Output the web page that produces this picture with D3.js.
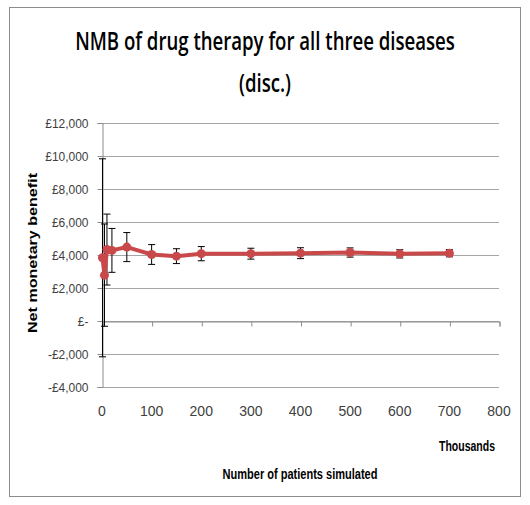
<!DOCTYPE html>
<html>
<head>
<meta charset="utf-8">
<script src="https://cdn.jsdelivr.net/npm/d3@7"></script>
<style>
  html, body { margin: 0; padding: 0; background: #fff; }
  svg { display: block; }
</style>
</head>
<body>
<svg id="chart" width="530" height="505"></svg>
<script>
// ---- data ----
const patientsThousands = [1, 5, 10, 20, 50, 100, 150, 200, 300, 400, 500, 600, 700];
const nmbValues        = [3800, 2750, 4300, 4250, 4450, 4000, 3900, 4050, 4050, 4080, 4120, 4040, 4080];
const errorMargins     = [6000, 3100, 2150, 1330, 880, 600, 450, 430, 330, 330, 280, 250, 220];
const yTicks = [-4000, -2000, 0, 2000, 4000, 6000, 8000, 10000, 12000];
const xTicks = [0, 100, 200, 300, 400, 500, 600, 700, 800];
const titleLines = ["NMB of drug therapy for all three diseases", "(disc.)"];

const svg = d3.select("#chart");
const FONT = "'Liberation Sans', Arial, sans-serif";
const TFONT = "'Open Sans', 'Liberation Sans', sans-serif";

// centred text squeezed horizontally to a given width
function fitText(str, cx, cy, width, size, weight, fill, family) {
  const t = svg.append("text").attr("text-anchor", "middle")
    .attr("font-family", family || FONT).attr("font-size", size).attr("font-weight", weight)
    .attr("fill", fill).text(str);
  const len = t.node().getComputedTextLength();
  t.attr("transform", `translate(${cx},${cy}) scale(${width / len},1)`);
  return width / len;
}

// outer frame
svg.append("rect").attr("x", 9.5).attr("y", 7.5).attr("width", 511).attr("height", 489)
  .attr("fill", "#fff").attr("stroke", "#8c8c8c").attr("stroke-width", 1);

const x = d3.scaleLinear().domain([0, 800]).range([102, 499]);
const y = d3.scaleLinear().domain([-4000, 12000]).range([386.5, 122.5]);

// title
const tScale = fitText(titleLines[0], 265, 50, 380, 25, 600, "#000", TFONT);
svg.append("text").attr("text-anchor", "middle").attr("font-family", TFONT).attr("font-size", 25)
  .attr("font-weight", 600).attr("fill", "#000")
  .attr("transform", `translate(265,92) scale(${tScale},1)`).text(titleLines[1]);

// gridlines
svg.append("g").selectAll("line").data(yTicks).join("line")
  .attr("x1", x(0)).attr("x2", x(800))
  .attr("y1", d => Math.round(y(d)) + 0.5).attr("y2", d => Math.round(y(d)) + 0.5)
  .attr("stroke", "#a6a6a6").attr("stroke-width", 1);

// y axis
const fmt = d => d === 0 ? "£-" : (d < 0 ? "-£" : "£") + d3.format(",")(Math.abs(d));
const yAxis = d3.axisLeft(y).tickValues(yTicks).tickFormat(fmt).tickSize(5).tickPadding(9);
const gy = svg.append("g").attr("transform", `translate(${x(0) + 0.5},0.5)`).call(yAxis);
gy.select(".domain").attr("stroke", "#8c8c8c");
gy.selectAll(".tick line").attr("stroke", "#8c8c8c");
gy.selectAll(".tick text").attr("font-family", FONT).attr("font-size", 13).attr("fill", "#404040")
  .attr("textLength", function () { return this.getComputedTextLength() * 0.92; })
  .attr("lengthAdjust", "spacingAndGlyphs");

// x axis line at y=0 with ticks
const xAxis = d3.axisBottom(x).tickValues(xTicks).tickSize(5).tickFormat("");
const gx = svg.append("g").attr("transform", `translate(0.5,${Math.round(y(0)) + 0.5})`).call(xAxis);
gx.select(".domain").attr("stroke", "#8c8c8c");
gx.selectAll(".tick line").attr("stroke", "#8c8c8c");

// x tick labels at the bottom
svg.append("g").selectAll("text").data(xTicks).join("text")
  .attr("x", d => x(d)).attr("y", 416).attr("text-anchor", "middle")
  .attr("font-family", FONT).attr("font-size", 14).attr("fill", "#404040")
  .text(d => d);

// axis titles
fitText("Thousands", 467, 451, 56, 14.5, "bold", "#000");
fitText("Number of patients simulated", 300, 479, 155, 14.5, "bold", "#000");
svg.append("text").attr("transform", "translate(37,253) rotate(-90)").attr("text-anchor", "middle")
  .attr("font-family", FONT).attr("font-size", 13)
  .attr("font-weight", "bold").attr("fill", "#000")
  .attr("textLength", 160).attr("lengthAdjust", "spacingAndGlyphs")
  .text("Net monetary benefit");

// data
const data = patientsThousands.map((p, i) => ({ p, v: nmbValues[i], e: errorMargins[i] }));
const RED = "#c9494a";

// error bars
const eb = svg.append("g").attr("stroke", "#000").attr("stroke-width", 1);
data.forEach(d => {
  const cx = x(d.p);
  eb.append("line").attr("x1", cx).attr("x2", cx).attr("y1", y(d.v + d.e)).attr("y2", y(d.v - d.e));
  eb.append("line").attr("x1", cx - 3.5).attr("x2", cx + 3.5).attr("y1", y(d.v + d.e)).attr("y2", y(d.v + d.e));
  eb.append("line").attr("x1", cx - 3.5).attr("x2", cx + 3.5).attr("y1", y(d.v - d.e)).attr("y2", y(d.v - d.e));
});

// line
svg.append("path").datum(data)
  .attr("d", d3.line().x(d => x(d.p)).y(d => y(d.v)))
  .attr("fill", "none").attr("stroke", RED).attr("stroke-width", 4).attr("stroke-linejoin", "round");

// markers
svg.append("g").selectAll("circle").data(data).join("circle")
  .attr("cx", d => x(d.p)).attr("cy", d => y(d.v)).attr("r", 4.5)
  .attr("fill", RED);
</script>
</body>
</html>
